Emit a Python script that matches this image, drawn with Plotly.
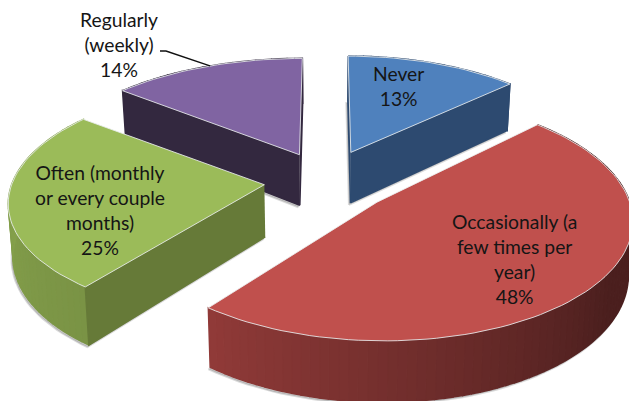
import numpy as np
import plotly.graph_objects as go

# ---- data ----
categories = ["Never", "Occasionally (a few times per year)",
              "Often (monthly or every couple months)", "Regularly (weekly)"]
values = [13, 48, 25, 14]
label_lines = ["Never<br>13%",
               "Occasionally (a<br>few times per<br>year)<br>48%",
               "Often (monthly<br>or every couple<br>months)<br>25%",
               "Regularly<br>(weekly)<br>14%"]

# ---- style ----
top_colors = ["#4F81BD", "#C0504D", "#9BBB59", "#8064A2"]
face_colors = ["#2D4A70", "#4B1F1E", "#667A38", "#33283F"]
arc_from = ["#2D4A70", "#4B1F1E", "#7A9345", "#33283F"]
arc_to = ["#2D4A70", "#903A38", "#8CAA50", "#33283F"]
explode = [0.25, 0.25, 0.25, 0.25]
# fine placement of each slice of the drawing: pixel shift, turn in degrees, width factor
shift = [(2, -2), (6, 2), (1, 2), (0, 0)]
turn = [0, -1.5, -2, 0]
widen = [1.0, 1.0, 1.02, 1.045]
label_pos = [(398, 86), (514, 259), (100, 210), (119, 44)]
CX, CY, A, B, P, T = 325.0, 180.0, 247.0, 115.0, 0.13, 52.0
W, H = 629, 401


def project(X, Y, low=False):
    s = 1.0 / (1.0 + P * np.asarray(Y))
    x = CX + A * np.asarray(X) * s
    y = CY - B * np.asarray(Y) * s
    if low:
        x = CX + (x - CX) * 0.985
        y = y + T * s
    return x, y


def poly(fig, xs, ys, fill, line=None, width=1.5):
    fig.add_trace(go.Scatter(
        x=list(xs), y=list(ys), mode="lines", fill="toself", fillcolor=fill,
        line=dict(color=line or fill, width=width), hoverinfo="skip",
        showlegend=False))


def mix(c1, c2, f):
    a = [int(c1[i:i + 2], 16) for i in (1, 3, 5)]
    b = [int(c2[i:i + 2], 16) for i in (1, 3, 5)]
    return "rgb(%d,%d,%d)" % tuple(round(p + (q - p) * f) for p, q in zip(a, b))


fig = go.Figure()
fractions = np.cumsum([0] + values) / sum(values)
slices = []
for i in range(len(values)):
    rot = np.radians(turn[i])
    t0, t1 = 2 * np.pi * fractions[i], 2 * np.pi * fractions[i + 1]
    mid = (t0 + t1) / 2
    ox, oy = explode[i] * np.sin(mid), explode[i] * np.cos(mid)
    th = np.linspace(t0, t1, max(12, int((t1 - t0) * 30))) + rot
    X = np.concatenate([[ox], ox + widen[i] * np.sin(th), [ox]])
    Y = np.concatenate([[oy], oy + np.cos(th), [oy]])
    slices.append((i, th, ox, oy, X, Y))

# back slices first
for i, th, ox, oy, X, Y in [slices[3], slices[0], slices[2], slices[1]]:
    xt, yt = project(X, Y)
    xl, yl = project(X, Y, low=True)
    xt, xl = xt + shift[i][0], xl + shift[i][0]
    yt, yl = yt + shift[i][1], yl + shift[i][1]
    n = len(th)
    # soft shadow
    poly(fig, xl - 1.5, yl + 2, "rgba(110,110,110,0.35)", "rgba(110,110,110,0.25)", 2)
    # outer curved wall
    for k in range(1, n):
        qx = [xt[k], xt[k + 1], xl[k + 1], xl[k]]
        qy = [yt[k], yt[k + 1], yl[k + 1], yl[k]]
        f = (k - 1) / (n - 2)
        if i == 1:
            f = max(0.0, (f - 0.45) / 0.55)
        poly(fig, qx, qy, mix(arc_from[i], arc_to[i], f))
    # straight cut faces, only those turned towards the viewer
    for e_, other in [(1, n), (n, 1)]:
        ex, ey = xt[e_] - xt[0], yt[e_] - yt[0]
        ix, iy = xt[other] - xt[0], yt[other] - yt[0]
        if (ex * iy - ey * ix) * ex < 0:
            qx = [xt[0], xt[e_], xl[e_], xl[0]]
            qy = [yt[0], yt[e_], yl[e_], yl[0]]
            poly(fig, qx, qy, face_colors[i])
    # top
    poly(fig, xt, yt, top_colors[i], "rgba(235,238,240,0.85)", 1)

# leader line for the Regularly label: ends on the arc of its slice
i, th, ox, oy, X, Y = slices[3]
mid = th[len(th) // 2]
ax, ay = project(ox + widen[i] * np.sin(mid), oy + np.cos(mid))
fig.add_trace(go.Scatter(x=[160, 166, float(ax)], y=[51, 51, float(ay)], mode="lines",
                         line=dict(color="#111111", width=1.4),
                         hoverinfo="skip", showlegend=False))

for text, (lx, ly) in zip(label_lines, label_pos):
    fig.add_annotation(x=lx, y=ly, text=text, showarrow=False, align="center",
                       xanchor="center", yanchor="middle",
                       font=dict(family="Lato", size=19.3, color="#151515"))

fig.update_xaxes(range=[0, W], visible=False, fixedrange=True)
fig.update_yaxes(range=[H, 0], visible=False, fixedrange=True)
fig.update_layout(width=W, height=H, margin=dict(l=0, r=0, t=0, b=0),
                  paper_bgcolor="white", plot_bgcolor="white", showlegend=False)
fig.write_html("out.html", config={"displayModeBar": False},
               post_script="document.body.style.margin='0';document.documentElement.style.overflow='hidden';")
